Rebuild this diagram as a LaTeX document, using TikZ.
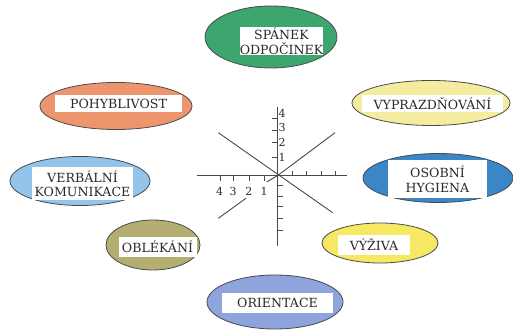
\documentclass[tikz,border=0pt]{standalone}
\usepackage{fontspec}
\setmainfont{DejaVu Serif}
\usetikzlibrary{shapes.geometric}
\definecolor{cGreen}{HTML}{3DA56E}
\definecolor{cSalmon}{HTML}{EF956E}
\definecolor{cLBlue}{HTML}{93C5EC}
\definecolor{cOlive}{HTML}{B5AE72}
\definecolor{cPale}{HTML}{F4EC9E}
\definecolor{cBlue}{HTML}{3A86C6}
\definecolor{cYellow}{HTML}{F6E862}
\definecolor{cPeri}{HTML}{8FA3DC}
\definecolor{cLine}{HTML}{4A4A4A}
\definecolor{cText}{HTML}{2A2A2A}
\begin{document}
\begin{tikzpicture}[x=1pt,y=-1pt,
  oval/.style={ellipse, draw=cLine, line width=0.8pt, inner sep=0},
  tag/.style={fill=white, inner sep=0, align=center, text=cText,
    font=\fontsize{12.6}{14.5}\selectfont},
  axisline/.style={draw=cLine, line width=0.9pt},
  tk/.style={draw=cLine, line width=0.8pt},
  num/.style={inner sep=0, text=cText, font=\fontsize{11}{12}\selectfont}]
\useasboundingbox (0,0) rectangle (513,331);

% ellipses
\node[oval, fill=cGreen,  minimum width=132, minimum height=62] (eSpanek) at (271,37) {};
\node[oval, fill=cSalmon, minimum width=152, minimum height=47] (ePohyb) at (116,106) {};
\node[oval, fill=cLBlue,  minimum width=140, minimum height=49] (eVerb) at (80,181) {};
\node[oval, fill=cOlive,  minimum width=94,  minimum height=50] (eObl) at (153,245) {};
\node[oval, fill=cPale,   minimum width=158, minimum height=45] (eVypr) at (431,103) {};
\node[oval, fill=cBlue,   minimum width=150, minimum height=49] (eHyg) at (438,178) {};
\node[oval, fill=cYellow, minimum width=116, minimum height=40] (eVyz) at (380,243) {};
\node[oval, fill=cPeri,   minimum width=136, minimum height=54] (eOri) at (275,302) {};

% white labels
\node[tag, minimum width=83,  minimum height=28] (tSpanek) at (281.5,41) {SPÁNEK\\ODPOČINEK};
\node[tag, minimum width=127, minimum height=17] (tPohyb) at (118.5,103.5) {POHYBLIVOST};
\node[tag, minimum width=101, minimum height=33] (tVerb) at (82.5,183.5) {VERBÁLNÍ\\KOMUNIKACE};
\node[tag, minimum width=78,  minimum height=20] (tObl) at (157.5,246.7) {OBLÉKÁNÍ};
\node[tag, minimum width=141, minimum height=17] (tVypr) at (432.5,103.5) {VYPRAZDŇOVÁNÍ};
\node[tag, minimum width=99,  minimum height=38] (tHyg) at (437.5,179) {OSOBNÍ\\HYGIENA};
\node[tag, minimum width=72,  minimum height=20] (tVyz) at (374,245) {VÝŽIVA};
\node[tag, minimum width=111, minimum height=20] (tOri) at (277.5,303) {ORIENTACE};

% axes
\coordinate (O) at (277.7,175.5);
\coordinate (xL) at (196.7,175.5);
\coordinate (xR) at (346.7,175.5);
\coordinate (yT) at (277.7,106.7);
\coordinate (yB) at (277.7,246);
\coordinate (dUL) at (218.3,132.7);
\coordinate (dLR) at (332.7,212.7);
\coordinate (dUR) at (335,132.7);
\coordinate (dLLa) at (266.7,182);
\coordinate (dLLb) at (246,198.3);
\coordinate (dLLc) at (218.3,218.3);
\draw[axisline] (xL) -- (xR);
\draw[axisline] (yT) -- (yB);
\draw[axisline] (dUL) -- (dLR);
\draw[axisline] (dUR) -- (O) -- (dLLa);
\draw[axisline] (dLLb) -- (dLLc);

% ticks on x axis
\foreach \x/\n in {220/4,233.5/3,249.3/2,264.5/1}{
  \draw[tk] (\x,175.5) -- (\x,180.5);
  \node[num] (nx\n) at (\x-0.5,191) {\n};
}
\foreach \x in {292,306.5,321,335}{
  \draw[tk] (\x,175.5) -- (\x,170.5);
}
% ticks on y axis
\foreach \y/\n in {157.3/1,142.7/2,130/3,118.3/4}{
  \draw[tk] (271.7,\y) -- (277.7,\y);
}
\foreach \y/\n in {157.3/1,142.7/2,127.5/3,113/4}{
  \node[num] (ny\n) at (282,\y) {\n};
}
\foreach \y in {185,196.7,206.7,218.3,230}{
  \draw[tk] (277.7,\y) -- (283,\y);
}
\end{tikzpicture}
\end{document}
